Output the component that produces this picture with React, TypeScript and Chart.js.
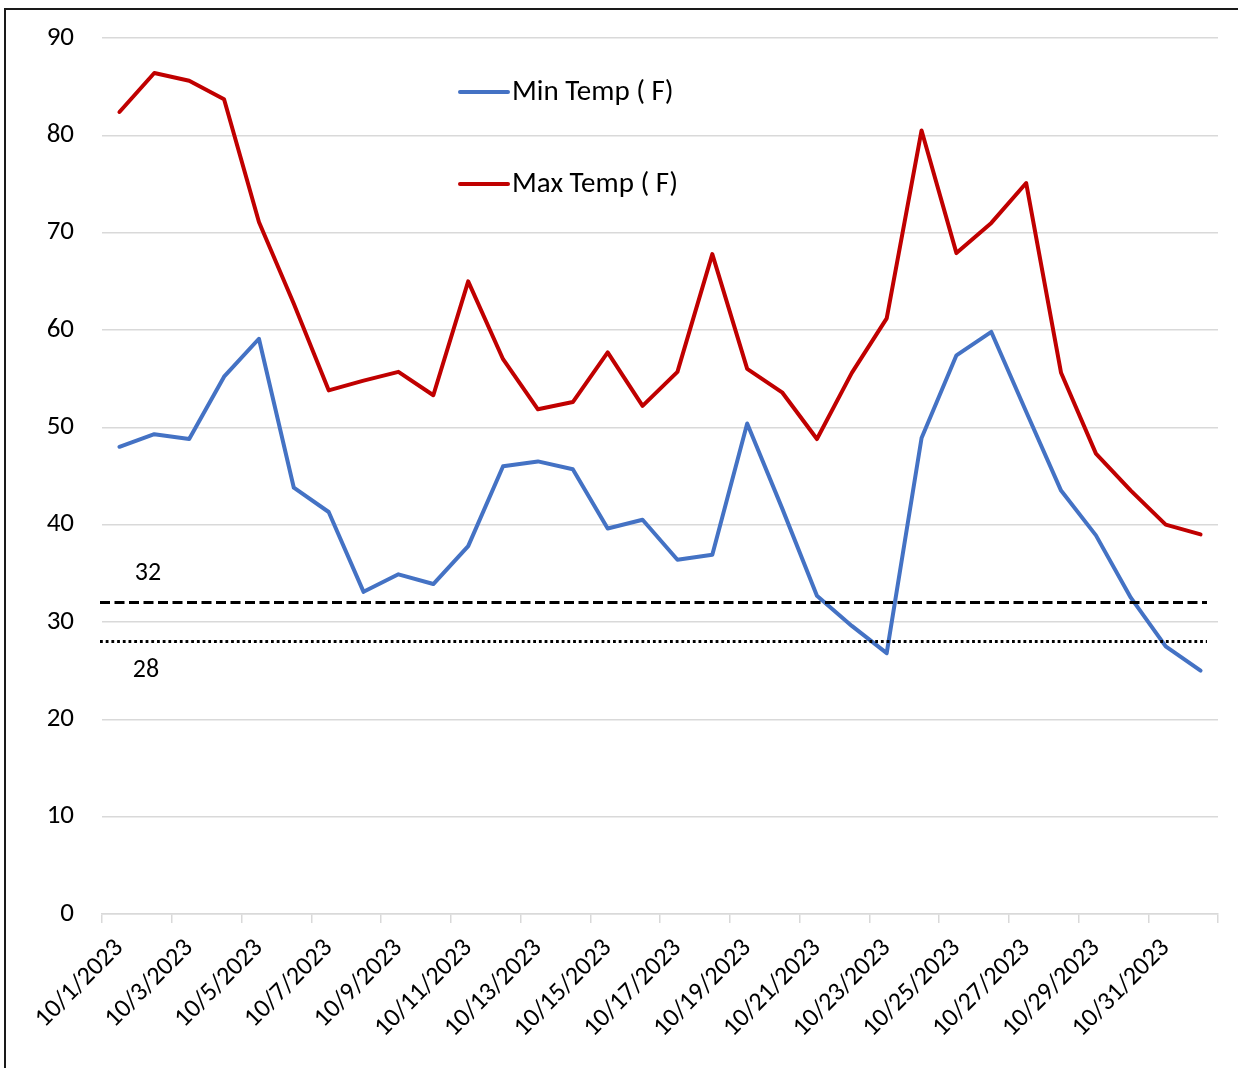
import React, { useEffect, useRef } from 'react';
import { Chart, registerables } from 'chart.js';

Chart.register(...registerables);

const DATES = [
  '10/1/2023', '10/2/2023', '10/3/2023', '10/4/2023', '10/5/2023', '10/6/2023', '10/7/2023', '10/8/2023',
  '10/9/2023', '10/10/2023', '10/11/2023', '10/12/2023', '10/13/2023', '10/14/2023', '10/15/2023', '10/16/2023',
  '10/17/2023', '10/18/2023', '10/19/2023', '10/20/2023', '10/21/2023', '10/22/2023', '10/23/2023', '10/24/2023',
  '10/25/2023', '10/26/2023', '10/27/2023', '10/28/2023', '10/29/2023', '10/30/2023', '10/31/2023', '11/1/2023',
];

const MIN_TEMP = [
  48.0, 49.3, 48.8, 55.2, 59.1, 43.8, 41.3, 33.1, 34.9, 33.9, 37.8, 46.0, 46.5, 45.7, 39.6, 40.5,
  36.4, 36.9, 50.4, 41.7, 32.7, 29.6, 26.8, 48.9, 57.4, 59.8, 51.6, 43.5, 38.9, 32.5, 27.5, 25.0,
];

const MAX_TEMP = [
  82.4, 86.4, 85.6, 83.7, 71.1, 62.7, 53.8, 54.8, 55.7, 53.3, 65.0, 57.0, 51.85, 52.6, 57.7, 52.2,
  55.7, 67.8, 56.0, 53.6, 48.8, 55.6, 61.2, 80.5, 67.9, 71.0, 75.1, 55.6, 47.3, 43.5, 40.0, 39.0,
];

const SERIES_LABELS = ['Min Temp ( F)', 'Max Temp ( F)'];
const SERIES_COLORS = ['#4472C4', '#C00000'];

const THRESHOLDS = [32, 28];
const THRESHOLD_LABELS = ['32', '28'];

const Y_MIN = 0;
const Y_MAX = 90;
const Y_STEP = 10;

const FONT = 'Carlito, Calibri, Lato, sans-serif';
const FONT_SIZE = 27;

const overlayPlugin = {
  id: 'overlay',
  beforeDraw(chart: any) {
    const ctx = chart.ctx;
    ctx.save();
    ctx.fillStyle = '#ffffff';
    ctx.fillRect(0, 0, chart.width, chart.height);
    ctx.strokeStyle = '#1a1a1a';
    ctx.lineWidth = 2;
    ctx.beginPath();
    ctx.moveTo(5, chart.height + 2);
    ctx.lineTo(5, 9);
    ctx.lineTo(chart.width + 2, 9);
    ctx.stroke();
    ctx.restore();
  },
  afterDatasetsDraw(chart: any) {
    const ctx = chart.ctx;
    const area = chart.chartArea;
    const y = chart.scales.y;
    ctx.save();
    THRESHOLDS.forEach((t, i) => {
      const py = y.getPixelForValue(t);
      ctx.strokeStyle = '#000';
      ctx.lineWidth = 3;
      ctx.setLineDash(i === 0 ? [10, 4.5] : [2.8, 2.9]);
      ctx.beginPath();
      ctx.moveTo(area.left - 2, py);
      ctx.lineTo(area.right - 11, py);
      ctx.stroke();
      ctx.setLineDash([]);
      ctx.fillStyle = '#000';
      ctx.font = `${FONT_SIZE - 1}px ${FONT}`;
      ctx.textAlign = 'center';
      ctx.textBaseline = 'middle';
      const ly = i === 0 ? py - 29 : py + 29;
      ctx.fillText(THRESHOLD_LABELS[i], i === 0 ? 148 : 146, ly);
    });
    chart.data.datasets.forEach((ds: any, i: number) => {
      const ly = 92 + i * 92;
      ctx.strokeStyle = ds.borderColor;
      ctx.lineWidth = 4;
      ctx.lineCap = 'round';
      ctx.beginPath();
      ctx.moveTo(460, ly);
      ctx.lineTo(508, ly);
      ctx.stroke();
      ctx.fillStyle = '#000';
      ctx.font = `${FONT_SIZE + 2}px ${FONT}`;
      ctx.textAlign = 'left';
      ctx.textBaseline = 'middle';
      ctx.fillText(ds.label, 512, ly + 1);
    });
    ctx.restore();
  },
};

export default function App() {
  const ref = useRef<HTMLCanvasElement>(null);
  useEffect(() => {
    if (!ref.current) return;
    const chart = new Chart(ref.current, {
      type: 'line',
      data: {
        labels: DATES,
        datasets: [
          {
            label: SERIES_LABELS[0],
            data: MIN_TEMP,
            borderColor: SERIES_COLORS[0],
            backgroundColor: SERIES_COLORS[0],
            borderWidth: 4,
            pointRadius: 0,
            tension: 0,
            borderCapStyle: 'round',
            borderJoinStyle: 'round',
          },
          {
            label: SERIES_LABELS[1],
            data: MAX_TEMP,
            borderColor: SERIES_COLORS[1],
            backgroundColor: SERIES_COLORS[1],
            borderWidth: 4,
            pointRadius: 0,
            tension: 0,
            borderCapStyle: 'round',
            borderJoinStyle: 'round',
          },
        ],
      },
      options: {
        animation: false,
        responsive: false,
        maintainAspectRatio: false,
        layout: { padding: { left: 0, right: 20, top: 38, bottom: 0 } },
        plugins: { legend: { display: false }, tooltip: { enabled: false } },
        scales: {
          x: {
            type: 'category',
            offset: true,
            grid: {
              offset: true,
              drawOnChartArea: false,
              drawTicks: true,
              tickLength: 9,
              lineWidth: 1.5,
              color: (c: any) => (c.index === undefined || c.index % 2 === 0 ? '#d9d9d9' : 'rgba(0,0,0,0)'),
            },
            border: { display: true, color: '#d9d9d9', width: 1.5 },
            ticks: {
              autoSkip: false,
              maxRotation: 45,
              minRotation: 45,
              padding: 10,
              color: '#000',
              font: { family: FONT, size: FONT_SIZE - 1 },
              callback: (_v: any, i: number) => (i % 2 === 0 ? DATES[i] : ''),
            },
            afterFit: (s: any) => {
              s.height = 154;
            },
          },
          y: {
            min: Y_MIN,
            max: Y_MAX,
            ticks: { stepSize: Y_STEP, padding: 3, color: '#000', font: { family: FONT, size: FONT_SIZE } },
            grid: { color: '#d9d9d9', lineWidth: 1.5, drawTicks: true, tickLength: 25, tickColor: 'rgba(0,0,0,0)' },
            border: { display: false },
            afterFit: (s: any) => {
              s.width = 102;
            },
          },
        },
      },
      plugins: [overlayPlugin],
    } as any);
    return () => chart.destroy();
  }, []);
  return (
    <div style={{ position: 'absolute', left: 0, top: 0, width: 1238, height: 1068, background: '#fff' }}>
      <canvas ref={ref} width={1238} height={1068} style={{ width: 1238, height: 1068, display: 'block' }} />
    </div>
  );
}
